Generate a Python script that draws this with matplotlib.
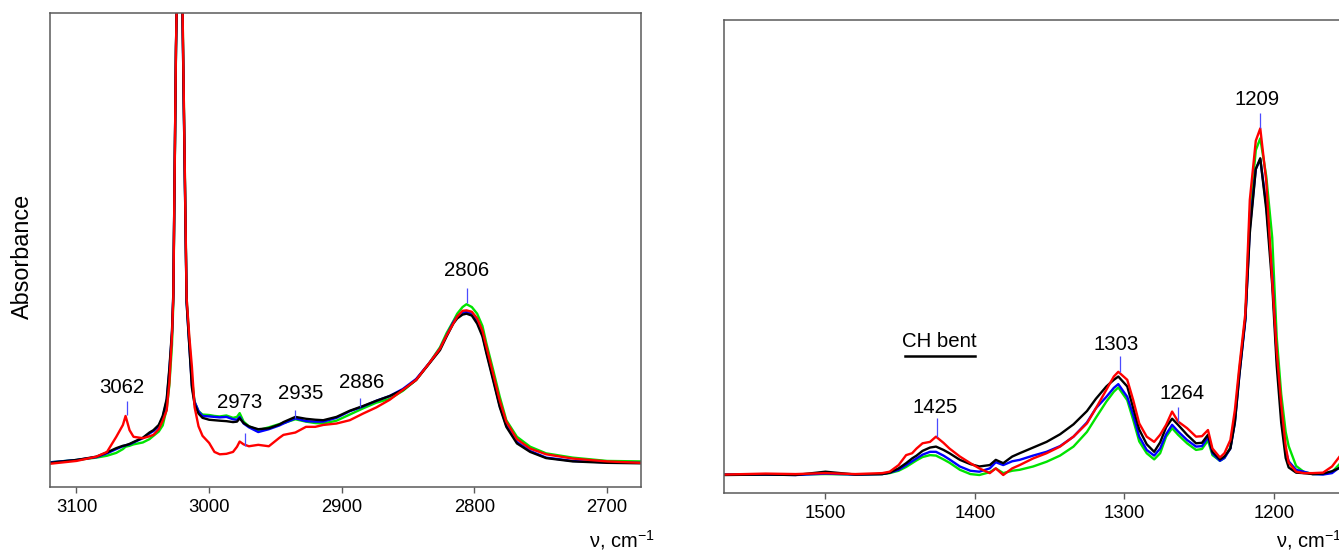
import matplotlib.pyplot as plt

plt.rcParams['font.family'] = 'Liberation Sans'
plt.rcParams['mathtext.fontset'] = 'custom'
plt.rcParams['mathtext.rm'] = 'Liberation Sans'
plt.rcParams['mathtext.default'] = 'regular'

# ---- C-H stretching region (left panel) ----
L_WN = [3120, 3100, 3085, 3077, 3070, 3065, 3063, 3060, 3057, 3050,
        3045, 3042, 3038, 3035, 3032, 3030, 3028, 3027, 3025, 3022,
        3020, 3017, 3015, 3013, 3011, 3008, 3005, 3000, 2996, 2992,
        2987, 2982, 2979, 2977, 2974, 2970, 2963, 2955, 2947, 2944,
        2935, 2927, 2920, 2914, 2904, 2894, 2884, 2874, 2864, 2854,
        2844, 2834, 2826, 2821, 2816, 2813, 2809, 2806, 2802, 2798,
        2794, 2791, 2786, 2781, 2776, 2768, 2758, 2746, 2726, 2700, 2675]

L_GREEN = [0.052, 0.057, 0.062, 0.066, 0.072, 0.080, 0.085, 0.087, 0.090, 0.094,
           0.101, 0.108, 0.117, 0.130, 0.165, 0.215, 0.300, 0.390, 0.920, 1.400,
           1.000, 0.400, 0.310, 0.230, 0.180, 0.160, 0.153, 0.152, 0.150, 0.149,
           0.151, 0.146, 0.148, 0.156, 0.138, 0.128, 0.120, 0.126, 0.133, 0.135,
           0.143, 0.138, 0.135, 0.134, 0.140, 0.153, 0.166, 0.178, 0.186, 0.203,
           0.226, 0.262, 0.295, 0.325, 0.350, 0.366, 0.380, 0.386, 0.380, 0.366,
           0.340, 0.303, 0.248, 0.191, 0.141, 0.106, 0.085, 0.071, 0.062, 0.055, 0.054]

L_BLUE = [0.052, 0.057, 0.063, 0.071, 0.080, 0.086, 0.088, 0.090, 0.094, 0.103,
          0.113, 0.118, 0.128, 0.147, 0.182, 0.245, 0.325, 0.405, 0.925, 1.400,
          0.980, 0.392, 0.302, 0.215, 0.180, 0.160, 0.150, 0.149, 0.148, 0.147,
          0.148, 0.143, 0.142, 0.148, 0.134, 0.126, 0.116, 0.122, 0.130, 0.134,
          0.145, 0.139, 0.138, 0.138, 0.146, 0.160, 0.170, 0.182, 0.192, 0.207,
          0.228, 0.262, 0.292, 0.320, 0.348, 0.360, 0.368, 0.370, 0.366, 0.350,
          0.322, 0.286, 0.230, 0.172, 0.130, 0.095, 0.076, 0.062, 0.055, 0.052, 0.051]

L_BLACK = [0.051, 0.057, 0.064, 0.073, 0.082, 0.087, 0.088, 0.091, 0.095, 0.104,
           0.115, 0.120, 0.131, 0.150, 0.186, 0.250, 0.330, 0.410, 0.930, 1.400,
           0.980, 0.390, 0.300, 0.210, 0.175, 0.155, 0.146, 0.142, 0.141, 0.140,
           0.139, 0.137, 0.138, 0.145, 0.135, 0.128, 0.122, 0.124, 0.132, 0.137,
           0.148, 0.144, 0.142, 0.141, 0.148, 0.161, 0.171, 0.182, 0.192, 0.205,
           0.226, 0.261, 0.289, 0.318, 0.345, 0.356, 0.364, 0.366, 0.362, 0.345,
           0.318, 0.282, 0.226, 0.169, 0.127, 0.092, 0.074, 0.061, 0.054, 0.051, 0.050]

L_RED = [0.049, 0.055, 0.064, 0.074, 0.106, 0.131, 0.150, 0.120, 0.106, 0.103,
         0.107, 0.110, 0.122, 0.140, 0.162, 0.220, 0.320, 0.400, 0.930, 1.400,
         1.000, 0.400, 0.320, 0.254, 0.169, 0.128, 0.108, 0.093, 0.074, 0.069,
         0.070, 0.074, 0.085, 0.096, 0.090, 0.086, 0.089, 0.086, 0.104, 0.110,
         0.115, 0.127, 0.127, 0.131, 0.134, 0.141, 0.155, 0.168, 0.184, 0.205,
         0.226, 0.262, 0.292, 0.320, 0.345, 0.360, 0.372, 0.373, 0.370, 0.356,
         0.330, 0.296, 0.240, 0.183, 0.138, 0.101, 0.081, 0.069, 0.060, 0.054, 0.051]

# ---- fingerprint region (right panel) ----
R_WN = [1567, 1540, 1520, 1500, 1480, 1462, 1457, 1451, 1446, 1442,
        1439, 1435, 1430, 1426, 1421, 1417, 1410, 1403, 1397, 1390,
        1386, 1381, 1375, 1370, 1361, 1352, 1343, 1334, 1325, 1319,
        1312, 1307, 1304, 1298, 1294, 1290, 1285, 1280, 1276, 1272,
        1268, 1264, 1258, 1252, 1248, 1244, 1241, 1236, 1233, 1229,
        1226, 1223, 1219, 1216, 1212, 1209, 1205, 1201, 1198, 1195,
        1192, 1190, 1185, 1180, 1174, 1167, 1161, 1153]

R_GREEN = [0.040, 0.040, 0.040, 0.041, 0.040, 0.041, 0.043, 0.048, 0.056, 0.064,
           0.070, 0.077, 0.081, 0.080, 0.072, 0.065, 0.050, 0.041, 0.039, 0.045,
           0.053, 0.043, 0.048, 0.050, 0.057, 0.067, 0.080, 0.099, 0.130, 0.160,
           0.194, 0.215, 0.224, 0.197, 0.155, 0.110, 0.085, 0.072, 0.085, 0.120,
           0.138, 0.124, 0.106, 0.092, 0.094, 0.112, 0.081, 0.069, 0.075, 0.097,
           0.155, 0.260, 0.370, 0.590, 0.725, 0.750, 0.670, 0.540, 0.330, 0.210,
           0.130, 0.100, 0.058, 0.046, 0.041, 0.041, 0.045, 0.072]

R_BLUE = [0.040, 0.040, 0.039, 0.042, 0.040, 0.041, 0.044, 0.050, 0.060, 0.068,
          0.074, 0.082, 0.088, 0.088, 0.080, 0.072, 0.057, 0.048, 0.046, 0.053,
          0.066, 0.060, 0.068, 0.071, 0.080, 0.088, 0.100, 0.120, 0.150, 0.180,
          0.204, 0.223, 0.231, 0.204, 0.165, 0.120, 0.092, 0.080, 0.095, 0.125,
          0.145, 0.131, 0.113, 0.099, 0.100, 0.119, 0.085, 0.069, 0.075, 0.095,
          0.150, 0.250, 0.365, 0.560, 0.685, 0.706, 0.610, 0.460, 0.290, 0.170,
          0.090, 0.068, 0.050, 0.046, 0.041, 0.040, 0.043, 0.062]

R_BLACK = [0.039, 0.040, 0.039, 0.046, 0.040, 0.041, 0.044, 0.053, 0.064, 0.074,
           0.080, 0.090, 0.097, 0.099, 0.092, 0.085, 0.071, 0.062, 0.057, 0.060,
           0.071, 0.064, 0.078, 0.085, 0.097, 0.109, 0.125, 0.146, 0.174, 0.200,
           0.226, 0.240, 0.247, 0.226, 0.180, 0.135, 0.104, 0.088, 0.108, 0.140,
           0.158, 0.145, 0.124, 0.106, 0.107, 0.124, 0.088, 0.072, 0.078, 0.095,
           0.150, 0.250, 0.370, 0.550, 0.685, 0.708, 0.600, 0.440, 0.270, 0.150,
           0.075, 0.055, 0.044, 0.043, 0.041, 0.042, 0.047, 0.058]

R_RED = [0.040, 0.042, 0.041, 0.043, 0.041, 0.043, 0.046, 0.060, 0.081, 0.085,
         0.095, 0.106, 0.109, 0.120, 0.107, 0.095, 0.078, 0.064, 0.053, 0.043,
         0.053, 0.039, 0.053, 0.060, 0.074, 0.085, 0.099, 0.120, 0.148, 0.180,
         0.219, 0.247, 0.257, 0.240, 0.197, 0.148, 0.120, 0.109, 0.124, 0.145,
         0.173, 0.152, 0.138, 0.120, 0.121, 0.134, 0.095, 0.076, 0.085, 0.113,
         0.176, 0.268, 0.380, 0.620, 0.745, 0.771, 0.660, 0.450, 0.300, 0.190,
         0.100, 0.065, 0.046, 0.043, 0.043, 0.044, 0.057, 0.090]

# band assignments: position, marker span, label baseline, label shift (pt)
L_PEAKS = [3062, 2973, 2935, 2886, 2806]
L_MARK_LO = [0.152, 0.086, 0.145, 0.168, 0.388]
L_MARK_HI = [0.182, 0.113, 0.162, 0.187, 0.421]
L_TEXT_Y = [0.198, 0.167, 0.186, 0.210, 0.445]
L_TEXT_DX = [-4, -4, 3.6, 0.7, 0]

R_PEAKS = [1425, 1303, 1264, 1209]
R_MARK_LO = [0.120, 0.257, 0.152, 0.771]
R_MARK_HI = [0.159, 0.290, 0.183, 0.803]
R_TEXT_Y = [0.169, 0.303, 0.199, 0.820]
R_TEXT_DX = [-1.5, -3, 3, -2.4]

CH_BENT = (1447, 1400)
CH_BENT_Y = 0.290

COLORS = ['#00e400', '#0000ff', '#000000', '#ff0000']
SPINE = '#5a5a5a'

fig = plt.figure(figsize=(13.39, 5.51), dpi=100)
axL = fig.add_axes([0.0373, 0.1162, 0.4414, 0.8593])
axR = fig.add_axes([0.5410, 0.1044, 0.4627, 0.8593])


def draw_panel(ax, wn, series, xlim, ticks, peaks, lo, hi, ty, dx):
    for y, c in zip(series, COLORS):
        ax.plot(wn, y, color=c, lw=1.7, solid_joinstyle='round')
    ax.vlines(peaks, lo, hi, color='#4b4bff', lw=0.9)
    for p, y, d in zip(peaks, ty, dx):
        ax.annotate(str(p), (p, y), xytext=(d, 0), textcoords='offset points',
                    ha='center', va='baseline', fontsize=14.7)
    ax.set_xlim(*xlim)
    ax.set_ylim(0, 1)
    ax.set_xticks(ticks)
    ax.set_yticks([])
    for s in ax.spines.values():
        s.set_color(SPINE)
        s.set_linewidth(1.1)
    ax.tick_params(axis='x', direction='out', length=4.5, width=1,
                   color=SPINE, labelcolor='black', labelsize=13.3, pad=4)


draw_panel(axL, L_WN, [L_GREEN, L_BLUE, L_BLACK, L_RED], (3120, 2674.5),
           [3100, 3000, 2900, 2800, 2700],
           L_PEAKS, L_MARK_LO, L_MARK_HI, L_TEXT_Y, L_TEXT_DX)
draw_panel(axR, R_WN, [R_GREEN, R_BLUE, R_BLACK, R_RED], (1567.6, 1153),
           [1500, 1400, 1300, 1200],
           R_PEAKS, R_MARK_LO, R_MARK_HI, R_TEXT_Y, R_TEXT_DX)

# CH bending range bar
axR.plot(CH_BENT, [CH_BENT_Y, CH_BENT_Y], color='black', lw=1.8)
axR.text(sum(CH_BENT) / 2, CH_BENT_Y + 0.02, 'CH bent', ha='center',
         va='baseline', fontsize=14.7)

fig.text(22 / 1339, 1 - 256.5 / 551, 'Absorbance', rotation=90,
         ha='center', va='center', fontsize=16.8)
fig.text(655 / 1339, 4 / 551, 'ν, cm$^{-1}$', ha='right', va='baseline', fontsize=14.5)
fig.text(1342 / 1339, 4 / 551, 'ν, cm$^{-1}$', ha='right', va='baseline', fontsize=14.5)

fig.savefig('out.png', dpi=100)
